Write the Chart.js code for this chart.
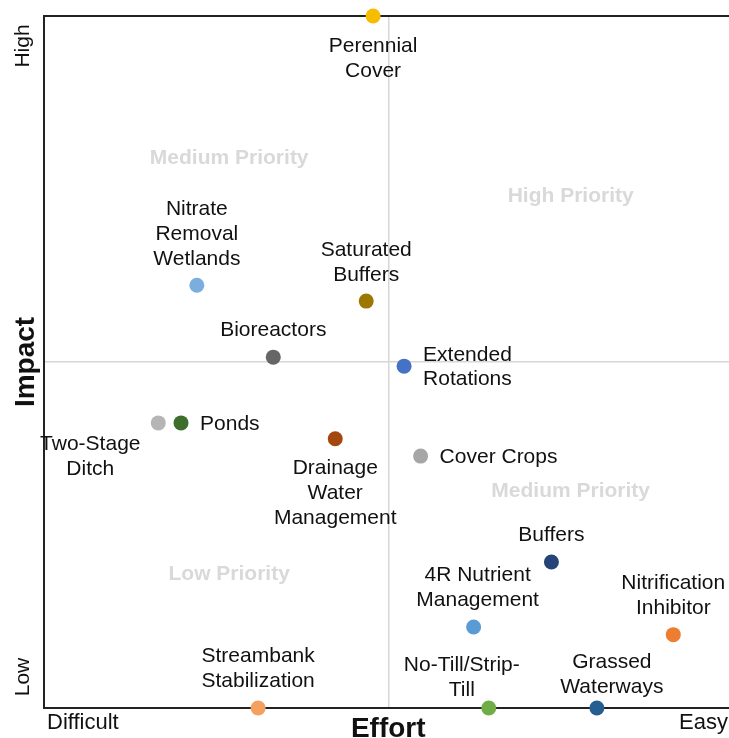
<!DOCTYPE html>
<html>
<head>
<meta charset="utf-8">
<script src="https://cdn.jsdelivr.net/npm/chart.js@4"></script>
<style>
    html, body { margin: 0; padding: 0; background: #fff; overflow: hidden; }
    #wrap { width: 740px; height: 738px; }
</style>
</head>
<body>
<div id="wrap"><canvas id="matrix" width="740" height="738"></canvas></div>
<script>
// Practices, effort (0 = difficult, 10 = easy) and impact (0 = low, 10 = high)
const practices = [
    'Perennial\nCover',
    'Nitrate\nRemoval\nWetlands',
    'Saturated\nBuffers',
    'Bioreactors',
    'Extended\nRotations',
    'Two-Stage\nDitch',
    'Ponds',
    'Drainage\nWater\nManagement',
    'Cover Crops',
    'Buffers',
    '4R Nutrient\nManagement',
    'Nitrification\nInhibitor',
    'Streambank\nStabilization',
    'No-Till/Strip-\nTill',
    'Grassed\nWaterways'
];
const effort = [4.78, 2.22, 4.68, 3.33, 5.23, 1.66, 1.99, 4.23, 5.47, 7.37, 6.24, 9.14, 3.11, 6.46, 8.03];
const impact = [10.0, 6.11, 5.88, 5.07, 4.94, 4.12, 4.12, 3.89, 3.64, 2.11, 1.17, 1.06, 0.0, 0.0, 0.0];

const pointColors = [
    '#f6bc00', '#7badde', '#9c7800', '#666666', '#4472c4',
    '#b5b5b5', '#3f6d2b', '#a3470f', '#a6a6a6', '#264478',
    '#5b9bd5', '#ed7d31', '#f4a05e', '#70ad47', '#255e91'
];

// where each label sits relative to its point
const labelPlacement = [
    { pos: 'below', gap: 30 },
    { pos: 'above', gap: 26 },
    { pos: 'above', gap: 26 },
    { pos: 'above' },
    { pos: 'right' },
    { pos: 'below', dx: -68, gap: 21 },
    { pos: 'right' },
    { pos: 'below', gap: 29 },
    { pos: 'right' },
    { pos: 'above' },
    { pos: 'above', dx: 4, gap: 27 },
    { pos: 'above', gap: 26 },
    { pos: 'above' },
    { pos: 'above', dx: -27, gap: 18 },
    { pos: 'above', dx: 15, gap: 21 }
];

const quadrantNames = ['Medium Priority', 'High Priority', 'Medium Priority', 'Low Priority'];
const quadrantX = [2.69, 7.65, 7.65, 2.69];
const quadrantY = [7.95, 7.39, 3.13, 1.93];

const FONT = '"Liberation Sans", Arial, sans-serif';
const LINE_H = 25;

const quadrantPlugin = {
    id: 'quadrants',
    beforeDatasetsDraw(chart) {
        const { ctx, scales } = chart;
        ctx.save();
        ctx.font = 'bold 21px ' + FONT;
        ctx.fillStyle = '#d9d9d9';
        ctx.textAlign = 'center';
        ctx.textBaseline = 'middle';
        quadrantNames.forEach((name, i) => {
            ctx.fillText(name, scales.x.getPixelForValue(quadrantX[i]), scales.y.getPixelForValue(quadrantY[i]));
        });
        // top frame line
        const a = chart.chartArea;
        ctx.strokeStyle = '#222';
        ctx.lineWidth = 2;
        ctx.beginPath();
        ctx.moveTo(a.left, a.top);
        ctx.lineTo(a.right, a.top);
        ctx.stroke();
        ctx.restore();
    }
};

const labelPlugin = {
    id: 'pointLabels',
    afterDatasetsDraw(chart) {
        const { ctx } = chart;
        const meta = chart.getDatasetMeta(0);
        ctx.save();
        ctx.font = '21px ' + FONT;
        ctx.fillStyle = '#111';
        ctx.textBaseline = 'middle';
        meta.data.forEach((pt, i) => {
            const lines = practices[i].split('\n');
            const p = labelPlacement[i];
            const n = lines.length;
            const dx = p.dx || 0;
            lines.forEach((line, j) => {
                let x = pt.x + dx, y;
                if (p.pos === 'above') {
                    ctx.textAlign = 'center';
                    y = pt.y - (p.gap || 27) - (n - 1 - j) * LINE_H;
                } else if (p.pos === 'below') {
                    ctx.textAlign = 'center';
                    y = pt.y + (p.gap || 28) + j * LINE_H;
                } else {
                    ctx.textAlign = 'left';
                    x = pt.x + 19 + dx;
                    y = pt.y + 1 + (j - (n - 1) / 2) * 24;
                }
                ctx.fillText(line, x, y);
            });
        });
        ctx.restore();
    },
    afterDraw(chart) {
        const { ctx, chartArea: a } = chart;
        const midX = (a.left + a.right) / 2;
        const midY = (a.top + a.bottom) / 2;
        ctx.save();
        ctx.fillStyle = '#111';
        ctx.textBaseline = 'middle';

        ctx.font = '22px ' + FONT;
        ctx.textAlign = 'left';
        ctx.fillText('Difficult', 47, a.bottom + 15);
        ctx.textAlign = 'right';
        ctx.fillText('Easy', 728, a.bottom + 15);

        ctx.font = 'bold 28px ' + FONT;
        ctx.textAlign = 'center';
        ctx.fillText('Effort', midX, a.bottom + 21);

        ctx.save();
        ctx.translate(26, midY);
        ctx.rotate(-Math.PI / 2);
        ctx.fillText('Impact', 0, 0);
        ctx.restore();

        ctx.font = '21px ' + FONT;
        ctx.save();
        ctx.translate(23, a.top + 30);
        ctx.rotate(-Math.PI / 2);
        ctx.fillText('High', 0, 0);
        ctx.restore();
        ctx.save();
        ctx.translate(23, a.bottom - 31);
        ctx.rotate(-Math.PI / 2);
        ctx.fillText('Low', 0, 0);
        ctx.restore();

        ctx.restore();
    }
};

const midLine = function(c) {
    return c.tick && c.tick.value === 5 ? '#d6d6d6' : 'rgba(0,0,0,0)';
};

new Chart(document.getElementById('matrix'), {
    type: 'scatter',
    data: {
        datasets: [{
            data: practices.map((p, i) => ({ x: effort[i], y: impact[i] })),
            pointBackgroundColor: pointColors,
            pointBorderWidth: 0,
            pointRadius: 7.5,
            pointHoverRadius: 7.5,
            clip: false
        }]
    },
    options: {
        responsive: false,
        animation: false,
        layout: { padding: { left: 44, top: 16, right: 1, bottom: 30 } },
        plugins: {
            legend: { display: false },
            tooltip: { enabled: false }
        },
        scales: {
            x: {
                min: 0,
                max: 10,
                ticks: { display: false, stepSize: 5 },
                grid: { color: midLine, lineWidth: 1.5, drawTicks: false },
                border: { display: true, color: '#222', width: 2 }
            },
            y: {
                min: 0,
                max: 10,
                ticks: { display: false, stepSize: 5 },
                grid: { color: midLine, lineWidth: 1.5, drawTicks: false },
                border: { display: true, color: '#222', width: 2 }
            }
        }
    },
    plugins: [quadrantPlugin, labelPlugin]
});
</script>
</body>
</html>
